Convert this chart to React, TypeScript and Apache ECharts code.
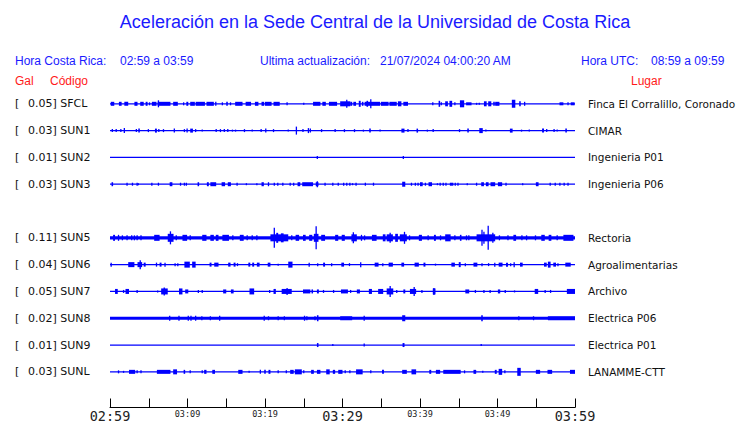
import React, { useEffect, useRef } from 'react';
import * as echarts from 'echarts';

// ---- Data ----
const STATIONS = ['SFCL', 'SUN1', 'SUN2', 'SUN3', 'SUN5', 'SUN6', 'SUN7', 'SUN8', 'SUN9', 'SUNL'];
const ROWS = [0, 1, 2, 3, 5, 6, 7, 8, 9, 10];
const PEAK_GAL = [0.05, 0.03, 0.01, 0.03, 0.11, 0.04, 0.05, 0.02, 0.01, 0.03];
const PLACES = [
  'Finca El Corralillo, Coronado', 'CIMAR', 'Ingenieria P01', 'Ingenieria P06', 'Rectoria',
  'Agroalimentarias', 'Archivo', 'Electrica P06', 'Electrica P01', 'LANAMME-CTT',
];
// background noise level of each trace (relative amplitude)
const NOISE_LEVEL = [1.3, 1.2, 1.2, 1.2, 3.4, 1.2, 1.2, 3.0, 1.2, 1.2];
const X_TICK_MINUTES = [0, 10, 20, 30, 40, 50, 60];
const X_TICK_LABELS = ['02:59', '03:09', '03:19', '03:29', '03:39', '03:49', '03:59'];
const X_MAJOR = [0, 30, 60];

const TITLE = 'Aceleración en la Sede Central de la Universidad de Costa Rica';
const LOCAL_RANGE = '02:59 a 03:59';
const UTC_RANGE = '08:59 a 09:59';
const UPDATED = '21/07/2024 04:00:20 AM';

// bursts: [start minute, end minute, relative half amplitude]
const SFCL_BURSTS = [
  [0.1, 0.55, 2], [1.15, 1.5, 2], [1.85, 2.35, 2], [3.15, 3.55, 2], [3.9, 4.35, 2], [4.6, 4.85, 2], [5.1, 5.1, 1.5],
  [5.4, 6.0, 2], [6.15, 7.8, 2], [6.25, 6.25, 3.5], [8.15, 8.75, 2], [9.5, 9.5, 1.5], [9.85, 10.1, 2], [10.35, 10.95, 2],
  [11.05, 12.25, 2], [12.45, 13.4, 2], [13.65, 13.65, 2], [14.5, 14.5, 1.5], [15.0, 15.2, 2], [15.55, 15.55, 1.5],
  [16.15, 17.1, 2], [17.5, 18.2, 2], [18.7, 19.15, 2], [19.55, 19.9, 2], [20.0, 20.85, 2], [21.1, 21.9, 2],
  [22.85, 22.85, 1.5], [25.0, 25.0, 1], [26.2, 27.15, 2], [27.4, 27.85, 2], [28.25, 29.3, 2], [29.7, 31.0, 2.5],
  [30.55, 30.55, 4], [31.0, 31.25, 2], [31.4, 31.75, 2], [32.1, 32.35, 3], [32.5, 32.7, 2], [32.85, 34.85, 2],
  [33.1, 33.3, 3], [33.65, 33.65, 4.5], [34.95, 35.95, 2], [36.05, 37.0, 2], [37.15, 37.6, 2.5], [37.85, 38.45, 2],
  [41.65, 41.65, 1.5], [42.4, 42.6, 3], [42.75, 42.75, 1.5], [43.25, 43.6, 2.5], [43.8, 44.15, 3], [44.5, 44.5, 1.5],
  [45.15, 45.7, 3.5], [45.95, 46.65, 1.5], [47.3, 47.3, 1], [47.65, 47.65, 1], [48.25, 48.6, 2.5], [48.8, 49.2, 2.5],
  [49.45, 49.65, 2], [49.7, 50.25, 2], [51.85, 52.3, 4], [52.8, 53.0, 2.5], [53.5, 53.5, 2], [58.0, 58.5, 1.5],
  [59.1, 59.1, 1.5], [59.45, 59.95, 1.5],
];
const SUN1_BURSTS = [
  [0.3, 0.3, 1.5], [0.8, 0.8, 1.5], [1.4, 1.4, 1.5], [1.85, 1.85, 2.5], [3.4, 3.4, 1.5], [3.65, 3.85, 2], [4.95, 4.95, 1.5],
  [5.8, 6.05, 2], [6.3, 6.3, 1.5], [6.9, 6.9, 1.5], [8.3, 8.45, 2], [9.6, 9.6, 1.5], [9.95, 10.1, 2], [10.35, 10.7, 2],
  [11.05, 11.05, 1.5], [11.9, 11.9, 1], [13.7, 13.7, 1.5], [14.25, 14.25, 1.5], [14.75, 14.75, 1.5], [15.2, 15.2, 1.5],
  [15.8, 15.8, 1], [16.2, 16.2, 1], [17.35, 17.35, 1.5], [18.35, 18.35, 1], [19.5, 19.5, 1.5], [20.1, 20.25, 2],
  [21.1, 21.1, 1.5], [23.0, 23.0, 1], [24.05, 24.05, 4], [24.9, 24.9, 1.5], [25.6, 25.6, 2.5], [25.85, 26.0, 2],
  [27.3, 27.3, 1.5], [29.05, 29.05, 1.5], [30.25, 30.25, 1.5], [31.55, 31.55, 1.5], [32.7, 32.7, 1], [33.45, 33.65, 2],
  [34.85, 34.85, 1], [37.6, 38.0, 2], [38.45, 38.45, 1.5], [39.55, 39.75, 2], [40.95, 40.95, 1], [41.7, 41.7, 1.5],
  [45.1, 45.1, 1.5], [46.1, 46.3, 2], [47.65, 48.1, 2.5], [48.5, 48.5, 1], [51.6, 51.95, 2], [53.1, 53.1, 1],
  [54.1, 54.1, 1], [55.75, 56.0, 2], [56.35, 56.35, 1.5], [57.3, 57.3, 1.5], [57.7, 57.7, 1], [58.75, 58.95, 2],
];
const SUN2_BURSTS = [[26.75, 26.75, 1.5], [37.85, 37.85, 1.5]];
const SUN3_BURSTS = [
  [0.2, 0.4, 2], [2.2, 2.2, 1.5], [2.9, 2.9, 1.5], [3.5, 3.5, 1.5], [3.65, 3.65, 1], [5.4, 5.4, 1.5], [6.25, 6.25, 1.5],
  [7.7, 8.05, 2], [9.1, 9.1, 1.5], [9.6, 9.6, 1.5], [9.85, 9.85, 1.5], [11.3, 11.5, 2], [12.5, 12.75, 2], [12.95, 13.7, 2],
  [14.4, 14.85, 2], [15.2, 15.6, 2], [16.4, 16.4, 1.5], [17.6, 17.6, 1], [18.95, 18.95, 1], [19.55, 19.85, 2],
  [20.45, 20.6, 2], [21.2, 21.2, 1.5], [21.65, 21.65, 1.5], [22.3, 22.3, 1.5], [23.25, 23.25, 1.5], [23.7, 23.7, 1.5],
  [24.2, 24.55, 2], [24.8, 26.2, 2], [26.55, 26.9, 2], [26.75, 26.75, 3], [27.75, 27.75, 1.5], [28.75, 28.75, 1.5],
  [29.45, 29.45, 1.5], [30.15, 30.15, 1.5], [30.55, 30.55, 1.5], [30.95, 30.95, 1.5], [31.3, 31.3, 1], [31.75, 31.75, 1.5],
  [32.95, 32.95, 1.5], [34.0, 34.0, 1.5], [37.7, 38.1, 2.5], [38.9, 38.9, 1.5], [39.4, 39.4, 1.5], [39.75, 39.75, 1.5],
  [40.0, 40.35, 2], [40.7, 40.7, 1.5], [41.1, 41.55, 2], [42.25, 42.25, 1], [42.6, 42.6, 1.5], [43.0, 43.0, 1.5],
  [43.35, 43.35, 1.5], [43.85, 44.3, 1.5], [44.55, 44.55, 1.5], [44.9, 44.9, 1.5], [46.1, 46.1, 1], [47.3, 47.3, 1.5],
  [47.9, 48.25, 2], [48.5, 48.85, 2], [49.1, 49.7, 2], [50.05, 50.6, 2], [51.1, 51.1, 1.5], [53.25, 53.25, 1],
  [54.95, 55.3, 2], [56.8, 56.8, 1.5], [57.45, 57.45, 1.5], [58.05, 58.05, 1.5], [58.6, 58.6, 1.5], [59.1, 59.1, 1.5],
];
const SUN5_BURSTS = [
  [0.4, 0.65, 3], [1.1, 1.1, 3], [1.6, 1.6, 2.5], [2.2, 2.2, 2.5], [2.8, 2.8, 2.5], [3.15, 3.15, 2.5], [3.5, 3.65, 2.5],
  [4.0, 4.0, 2.5], [5.7, 6.4, 3], [7.45, 8.2, 4], [7.8, 7.8, 6.5], [8.55, 8.55, 2.5], [9.35, 9.95, 3], [10.35, 10.35, 2.5],
  [11.9, 12.45, 3], [12.95, 13.4, 3], [13.65, 14.0, 3], [14.5, 15.35, 3], [15.85, 15.85, 2.5], [16.75, 17.25, 3],
  [17.7, 17.7, 2.5], [18.35, 18.35, 2.5], [18.95, 18.95, 2.5], [20.7, 23.0, 3.5], [21.2, 21.2, 10], [21.45, 21.7, 5],
  [22.05, 22.4, 4.5], [23.45, 23.45, 2.5], [23.95, 24.4, 3], [24.9, 25.25, 3], [25.7, 26.1, 3], [26.3, 26.9, 4],
  [26.6, 26.6, 11.5], [27.25, 27.75, 3], [29.05, 29.45, 3], [29.9, 30.3, 3], [31.15, 31.85, 3.5], [31.4, 31.4, 5.5],
  [32.45, 32.45, 3], [32.85, 32.85, 2.5], [33.8, 34.4, 3], [35.2, 35.55, 3.5], [35.7, 36.5, 3.5], [36.15, 36.15, 5],
  [36.8, 37.15, 4], [37.4, 38.3, 3.5], [38.0, 38.0, 6], [38.65, 38.65, 2.5], [39.85, 40.25, 3], [41.05, 41.05, 2.5],
  [41.8, 42.05, 3], [42.65, 42.65, 2.5], [43.25, 43.95, 3.5], [44.5, 44.5, 2.5], [45.15, 45.35, 3], [46.0, 46.0, 2.5],
  [46.3, 46.3, 2.5], [47.3, 49.7, 3.5], [48.0, 48.0, 8], [48.25, 48.25, 6], [48.8, 48.8, 12], [49.4, 49.4, 5],
  [50.25, 50.25, 2.5], [51.35, 51.35, 2.5], [52.05, 52.4, 3], [53.15, 53.15, 2.5], [53.75, 53.75, 2.5], [54.9, 54.9, 2.5],
  [55.65, 56.1, 3], [56.6, 56.95, 3], [57.7, 57.7, 2.5], [58.5, 59.8, 3],
];
const SUN6_BURSTS = [
  [0.15, 0.3, 2], [2.35, 3.15, 2.5], [3.55, 4.15, 2.5], [3.9, 3.9, 4.5], [4.35, 4.6, 2], [6.0, 6.15, 2], [6.4, 6.65, 2],
  [7.1, 7.25, 2], [8.4, 8.4, 1.5], [8.75, 8.75, 1.5], [9.6, 10.3, 3], [10.6, 11.05, 3], [12.85, 13.1, 2], [13.45, 14.0, 2],
  [15.25, 15.55, 2], [15.95, 16.2, 2], [16.45, 16.45, 1.5], [17.85, 18.1, 2], [18.35, 18.6, 2], [18.95, 19.3, 2],
  [20.35, 20.7, 2], [21.7, 21.7, 1], [23.0, 23.55, 3], [25.7, 25.85, 2], [26.8, 26.8, 1.5], [27.5, 27.75, 2],
  [28.6, 28.6, 1.5], [29.85, 30.2, 2], [30.9, 30.9, 1.5], [32.35, 32.35, 2.5], [34.15, 34.65, 2], [35.2, 35.2, 1.5],
  [35.95, 36.5, 2], [37.6, 37.95, 2], [39.3, 39.85, 2], [40.45, 40.7, 2], [42.0, 42.0, 1], [44.05, 44.5, 2],
  [45.0, 45.25, 2.5], [45.85, 45.85, 1.5], [46.9, 47.4, 2], [48.0, 48.0, 1.5], [48.85, 48.85, 1.5], [49.65, 49.8, 2],
  [50.15, 50.65, 2], [51.1, 51.35, 2], [51.7, 51.7, 1.5], [52.15, 52.15, 2.5], [52.9, 53.25, 2], [56.0, 56.35, 2],
  [56.5, 56.85, 3], [57.2, 57.55, 2], [57.8, 57.8, 1.5], [58.75, 59.45, 2],
];
const SUN7_BURSTS = [
  [0.65, 1.0, 2.5], [1.75, 1.75, 1.5], [2.0, 2.45, 2.5], [3.5, 3.5, 1.5], [6.15, 6.15, 1], [6.6, 7.45, 3], [7.0, 7.0, 4],
  [8.9, 9.35, 3], [9.7, 10.1, 2], [11.4, 11.4, 1.5], [11.9, 11.9, 1.5], [14.6, 15.0, 2], [15.6, 15.95, 2], [18.0, 18.6, 3],
  [20.6, 20.6, 1.5], [21.1, 21.4, 2.5], [22.15, 23.45, 2.5], [22.85, 22.85, 3.5], [24.9, 25.85, 2], [26.0, 26.2, 2],
  [26.7, 26.95, 2], [27.55, 27.55, 1.5], [28.85, 28.85, 1.5], [29.8, 30.7, 2], [31.05, 31.05, 1.5], [31.85, 32.25, 2],
  [33.4, 33.8, 2.5], [34.6, 35.25, 2.5], [35.7, 36.55, 3], [36.15, 36.15, 5.5], [37.0, 37.0, 1.5], [37.85, 38.1, 2],
  [38.7, 39.5, 2.5], [39.25, 39.25, 4.5], [40.25, 40.25, 1.5], [41.65, 42.0, 3], [41.8, 41.8, 3.5], [45.85, 46.35, 2],
  [47.15, 47.15, 1.5], [48.25, 48.25, 1.5], [49.05, 49.05, 1.5], [50.05, 50.35, 2], [51.0, 51.0, 1.5], [52.2, 52.2, 1],
  [54.8, 55.25, 2.5], [56.15, 56.15, 1.5], [56.85, 56.85, 1.5], [58.95, 60.0, 2.5],
];
const SUN8_BURSTS = [
  [7.7, 7.7, 2.5], [8.9, 8.9, 2.5], [10.1, 10.1, 2.5], [10.45, 10.45, 2.5], [11.05, 11.05, 2.5], [11.85, 11.85, 2],
  [12.95, 12.95, 2], [14.15, 14.3, 2.5], [19.9, 19.9, 2.5], [20.45, 20.45, 2], [21.7, 21.7, 2], [22.5, 22.5, 2],
  [25.1, 25.1, 2.5], [25.4, 25.4, 2], [26.45, 26.45, 2], [26.7, 26.9, 3], [29.7, 31.25, 2], [32.8, 32.8, 2.5],
  [37.7, 38.1, 3], [47.9, 48.1, 3], [52.75, 52.75, 2], [54.65, 54.65, 2], [56.5, 60.0, 2],
];
const SUN9_BURSTS = [[26.7, 26.9, 2], [28.75, 28.75, 1], [32.8, 32.8, 1.5], [37.75, 38.0, 2], [47.9, 47.9, 1]];
const SUNL_BURSTS = [
  [1.1, 1.1, 1.5], [1.75, 1.75, 1], [2.45, 3.25, 2], [3.5, 3.5, 1.5], [4.0, 4.0, 1.5], [6.05, 7.8, 2], [8.15, 8.65, 2.5],
  [9.5, 9.7, 2], [10.35, 10.35, 1.5], [11.9, 11.9, 1.5], [12.15, 12.45, 2], [13.2, 13.55, 2], [16.55, 17.1, 2],
  [17.95, 17.95, 1], [19.4, 19.55, 2], [19.9, 20.1, 2], [20.45, 20.7, 2], [21.7, 21.7, 1.5], [22.75, 22.75, 1.5],
  [23.25, 23.7, 2], [23.85, 24.75, 2.5], [25.0, 25.0, 1.5], [25.95, 26.3, 2], [26.7, 27.15, 2], [27.9, 28.35, 2.5],
  [28.75, 29.05, 2], [29.45, 30.0, 2], [30.35, 30.35, 1.5], [30.95, 30.95, 1.5], [31.75, 32.6, 2.5], [33.65, 33.65, 1.5],
  [35.1, 35.35, 2], [37.7, 38.3, 2], [38.9, 39.5, 2.5], [41.2, 41.45, 2], [42.05, 42.6, 2], [43.0, 45.25, 2],
  [45.75, 45.75, 1.5], [46.9, 47.25, 2], [48.1, 48.1, 1], [49.65, 49.9, 2], [50.15, 50.6, 3], [50.95, 50.95, 1.5],
  [52.55, 53.0, 4], [54.95, 55.5, 2], [56.45, 57.05, 2], [59.35, 60.0, 2],
];
const BURSTS = [
  SFCL_BURSTS, SUN1_BURSTS, SUN2_BURSTS, SUN3_BURSTS, SUN5_BURSTS,
  SUN6_BURSTS, SUN7_BURSTS, SUN8_BURSTS, SUN9_BURSTS, SUNL_BURSTS,
];

// ---- Styles ----
const TRACE = '#0000ff';
const TEXT_BLUE = '#1a1aff';
const RED = '#ff1a1a';
const SANS = '"Liberation Sans", Arial, sans-serif';
const LABEL_FONT = '"DejaVu Sans", sans-serif';
const MONO = '"DejaVu Sans Mono", monospace';

export default function App() {
  const ref = useRef<HTMLDivElement>(null);

  useEffect(() => {
    if (!ref.current) return;
    const chart = echarts.init(ref.current, undefined, { renderer: 'svg' });

    const series: any[] = [];
    STATIONS.forEach((_, i) => {
      const row = ROWS[i];
      series.push({
        type: 'line',
        data: [[0, row], [60, row]],
        symbol: 'none',
        silent: true,
        z: 2,
        lineStyle: { color: TRACE, width: NOISE_LEVEL[i] },
      });
      series.push({
        type: 'custom',
        data: BURSTS[i].map((b) => [b[0], b[1], b[2], row]),
        encode: { x: [0, 1], y: 3 },
        clip: false,
        silent: true,
        z: 3,
        renderItem: (_p: any, api: any) => {
          const t0 = api.value(0);
          const t1 = api.value(1);
          const a = api.value(2);
          const r = api.value(3);
          const p0 = api.coord([t0, r]);
          const p1 = api.coord([t1, r]);
          const w = Math.max(p1[0] - p0[0], 1.3);
          const x = p1[0] - p0[0] < 1.3 ? p0[0] - 0.65 : p0[0];
          return {
            type: 'rect',
            shape: { x, y: p0[1] - a, width: w, height: 2 * a },
            style: { fill: TRACE },
          };
        },
      });
    });

    const yBase = {
      type: 'value',
      min: -1,
      max: 11.33,
      interval: 1,
      inverse: true,
      axisLine: { show: false },
      axisTick: { show: false },
      splitLine: { show: false },
    };

    const header = (text: string, x: number, y: number, fill: string) => ({
      type: 'text',
      x,
      y,
      silent: true,
      style: { text, fill, font: `12px ${SANS}`, align: 'left', verticalAlign: 'middle' },
    });

    chart.setOption({
      animation: false,
      backgroundColor: '#ffffff',
      grid: { left: 110, right: 165, top: 77, bottom: 13.5, containLabel: false },
      xAxis: {
        type: 'value',
        min: 0,
        max: 60,
        interval: 5,
        splitLine: { show: false },
        axisLine: { show: true, onZero: false, lineStyle: { color: '#000', width: 1 } },
        axisTick: { show: true, inside: true, length: 9, lineStyle: { color: '#000', width: 1 } },
        axisLabel: {
          margin: 1,
          showMinLabel: true,
          showMaxLabel: true,
          hideOverlap: false,
          formatter: (v: number) => {
            const k = X_TICK_MINUTES.indexOf(v);
            if (k < 0) return '';
            return X_MAJOR.includes(v) ? `{big|${X_TICK_LABELS[k]}}` : `{small|${X_TICK_LABELS[k]}}`;
          },
          rich: {
            big: { fontFamily: MONO, fontSize: 13.5, lineHeight: 15, color: '#222' },
            small: { fontFamily: MONO, fontSize: 8.5, lineHeight: 11, color: '#222' },
          },
        },
      },
      yAxis: [
        {
          ...yBase,
          position: 'left',
          axisLabel: {
            margin: 95,
            align: 'left',
            formatter: (v: number) => {
              const i = ROWS.indexOf(v);
              if (i < 0) return '';
              return `{a|[}{b|${PEAK_GAL[i].toFixed(2)}] ${STATIONS[i]}}`;
            },
            rich: {
              a: { width: 13, fontFamily: LABEL_FONT, fontSize: 11, color: '#111' },
              b: { fontFamily: LABEL_FONT, fontSize: 11, color: '#111' },
            },
          },
        },
        {
          ...yBase,
          position: 'right',
          axisLabel: {
            margin: 13,
            align: 'left',
            fontFamily: LABEL_FONT,
            fontSize: 10.5,
            color: '#111',
            formatter: (v: number) => {
              const i = ROWS.indexOf(v);
              return i < 0 ? '' : PLACES[i];
            },
          },
        },
      ],
      graphic: [
        {
          type: 'text',
          x: 375,
          y: 22,
          silent: true,
          style: { text: TITLE, fill: TEXT_BLUE, font: `18px ${SANS}`, align: 'center', verticalAlign: 'middle' },
        },
        header('Hora Costa Rica:', 15, 61, TEXT_BLUE),
        header(LOCAL_RANGE, 120, 61, TEXT_BLUE),
        header('Ultima actualización:', 260, 61, TEXT_BLUE),
        header(UPDATED, 380, 61, TEXT_BLUE),
        header('Hora UTC:', 581, 61, TEXT_BLUE),
        header(UTC_RANGE, 651, 61, TEXT_BLUE),
        header('Gal', 15, 81, RED),
        header('Código', 50, 81, RED),
        header('Lugar', 631, 81, RED),
      ],
      series,
    });

    return () => chart.dispose();
  }, []);

  return (
    <div
      ref={ref}
      style={{ position: 'fixed', left: 0, top: 0, width: 740, height: 423, background: '#fff' }}
    />
  );
}
